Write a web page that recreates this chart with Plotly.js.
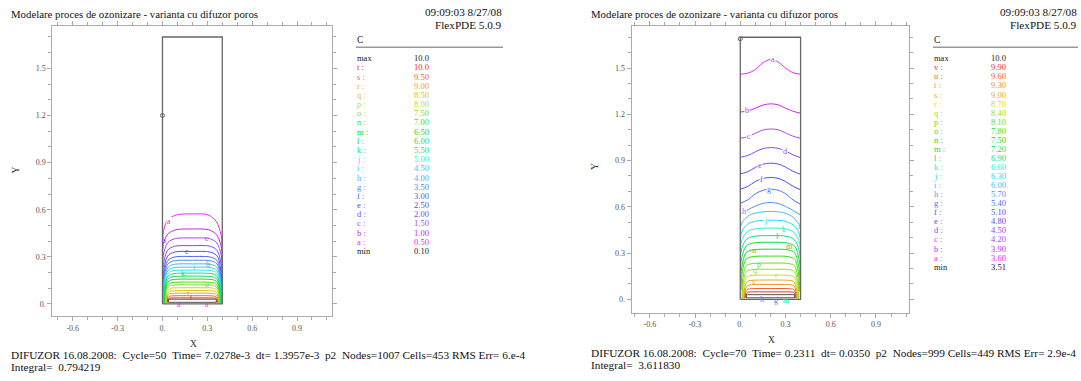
<!DOCTYPE html>
<html><head><meta charset="utf-8">
<script src="https://cdn.plot.ly/plotly-3.0.1.min.js"></script>
<style>html,body{margin:0;padding:0;background:#fff;}#chart{width:1081px;height:381px;}</style>
</head><body><div id="chart"></div>
<script>
// ---------------- data ----------------
const titleText = "Modelare proces de ozonizare - varianta cu difuzor poros";
const stampText = "09:09:03 8/27/08";
const versionText = "FlexPDE 5.0.9";
const varName = "C";
const letters = ["a","b","c","d","e","f","g","h","i","j","k","l","m","n","o","p","q","r","s","t","u","v"];

const leftLevels = [0.5,1.0,1.5,2.0,2.5,3.0,3.5,4.0,4.5,5.0,5.5,6.0,6.5,7.0,7.5,8.0,8.5,9.0,9.5,10.0];
const leftMax = 10.0, leftMin = 0.10;
const rightLevels = [3.6,3.9,4.2,4.5,4.8,5.1,5.4,5.7,6.0,6.3,6.6,6.9,7.2,7.5,7.8,8.1,8.4,8.7,9.0,9.3,9.6,9.9];
const rightMax = 10.0, rightMin = 3.51;

const xTickVals = [-0.6,-0.3,0,0.3,0.6,0.9];
const xTickText = ["-0.6","-0.3","0.","0.3","0.6","0.9"];
const yTickVals = [0,0.3,0.6,0.9,1.2,1.5];
const yTickText = ["0.","0.3","0.6","0.9","1.2","1.5"];

const domainX = [0,0.4,0.4,0,0];
const domainY = [0,0,1.7,1.7,0];
const diffuserX = [0.04,0.36,0.36,0.04,0.04];
const diffuserY = [0.01,0.01,0.03,0.03,0.01];
const leftProbe = [0,1.2];
const rightProbe = [0,1.69];

const leftContX = [
[0.000,0.006,0.035,0.095,0.200,0.305,0.360,0.392,0.400],
[0.000,0.006,0.035,0.090,0.200,0.310,0.362,0.392,0.400],
[0.000,0.006,0.035,0.085,0.200,0.315,0.364,0.393,0.400],
[0.000,0.006,0.035,0.080,0.200,0.320,0.366,0.393,0.400],
[0.002,0.007,0.035,0.080,0.200,0.320,0.366,0.392,0.398],
[0.004,0.009,0.036,0.078,0.200,0.322,0.365,0.390,0.396],
[0.006,0.011,0.037,0.076,0.200,0.324,0.364,0.389,0.394],
[0.008,0.013,0.038,0.074,0.200,0.326,0.363,0.387,0.392],
[0.010,0.015,0.039,0.072,0.200,0.328,0.362,0.385,0.390],
[0.012,0.017,0.040,0.070,0.200,0.330,0.361,0.383,0.388],
[0.014,0.019,0.041,0.068,0.200,0.332,0.360,0.381,0.386],
[0.016,0.021,0.042,0.066,0.200,0.334,0.359,0.379,0.384],
[0.018,0.023,0.043,0.064,0.200,0.336,0.358,0.377,0.382],
[0.020,0.025,0.044,0.062,0.200,0.338,0.357,0.375,0.380],
[0.022,0.027,0.045,0.060,0.200,0.340,0.356,0.373,0.378],
[0.024,0.029,0.046,0.058,0.200,0.342,0.355,0.371,0.376],
[0.027,0.032,0.046,0.057,0.200,0.343,0.354,0.368,0.373],
[0.030,0.034,0.046,0.056,0.200,0.344,0.354,0.366,0.370],
[0.033,0.036,0.045,0.054,0.200,0.346,0.355,0.364,0.367],
[0.036,0.037,0.042,0.050,0.200,0.350,0.358,0.363,0.364]
];
const leftContY = [
[0.380,0.460,0.535,0.567,0.573,0.567,0.525,0.440,0.365],
[0.280,0.380,0.445,0.472,0.477,0.472,0.440,0.370,0.280],
[0.200,0.310,0.390,0.416,0.420,0.416,0.388,0.310,0.200],
[0.130,0.250,0.342,0.367,0.371,0.367,0.340,0.250,0.130],
[0.005,0.200,0.305,0.330,0.334,0.330,0.305,0.200,0.005],
[0.005,0.180,0.276,0.298,0.302,0.298,0.276,0.180,0.005],
[0.005,0.170,0.255,0.274,0.278,0.274,0.255,0.170,0.005],
[0.005,0.160,0.234,0.251,0.255,0.251,0.234,0.160,0.005],
[0.005,0.150,0.215,0.230,0.234,0.230,0.215,0.150,0.005],
[0.005,0.140,0.198,0.211,0.215,0.211,0.198,0.140,0.005],
[0.005,0.130,0.181,0.192,0.196,0.192,0.181,0.130,0.005],
[0.005,0.120,0.163,0.173,0.177,0.173,0.163,0.120,0.005],
[0.005,0.110,0.145,0.154,0.158,0.154,0.145,0.110,0.005],
[0.005,0.100,0.127,0.135,0.139,0.135,0.127,0.100,0.005],
[0.005,0.090,0.111,0.118,0.121,0.118,0.111,0.090,0.005],
[0.005,0.075,0.094,0.100,0.103,0.100,0.094,0.075,0.005],
[0.005,0.062,0.078,0.082,0.085,0.082,0.078,0.062,0.005],
[0.006,0.050,0.062,0.066,0.068,0.066,0.062,0.050,0.006],
[0.008,0.040,0.047,0.050,0.052,0.050,0.047,0.040,0.008],
[0.010,0.030,0.035,0.037,0.038,0.037,0.035,0.030,0.010]
];

const rightContX = [
[0.000,0.050,0.100,0.150,0.200,0.250,0.300,0.350,0.400],
[0.000,0.050,0.100,0.150,0.200,0.250,0.300,0.350,0.400],
[0.000,0.050,0.100,0.150,0.200,0.250,0.300,0.350,0.400],
[0.000,0.050,0.100,0.150,0.200,0.250,0.300,0.350,0.400],
[0.000,0.050,0.100,0.150,0.200,0.250,0.300,0.350,0.400],
[0.000,0.050,0.100,0.150,0.200,0.250,0.300,0.350,0.400],
[0.000,0.050,0.100,0.150,0.200,0.250,0.300,0.350,0.400],
[0.000,0.040,0.100,0.150,0.200,0.250,0.300,0.360,0.400],
[0.000,0.020,0.060,0.120,0.200,0.280,0.340,0.380,0.400],
[0.000,0.015,0.050,0.110,0.200,0.290,0.350,0.385,0.400],
[0.000,0.012,0.045,0.100,0.200,0.300,0.355,0.388,0.400],
[0.000,0.010,0.040,0.090,0.200,0.310,0.360,0.390,0.400],
[0.000,0.010,0.038,0.085,0.200,0.315,0.362,0.390,0.400],
[0.002,0.012,0.038,0.080,0.200,0.320,0.362,0.388,0.398],
[0.005,0.014,0.038,0.078,0.200,0.322,0.362,0.386,0.395],
[0.012,0.018,0.040,0.076,0.200,0.324,0.360,0.382,0.388],
[0.016,0.021,0.041,0.074,0.200,0.326,0.359,0.379,0.384],
[0.020,0.025,0.043,0.072,0.200,0.328,0.357,0.375,0.380],
[0.024,0.029,0.045,0.070,0.200,0.330,0.355,0.371,0.376],
[0.028,0.032,0.046,0.066,0.200,0.334,0.354,0.368,0.372],
[0.032,0.035,0.046,0.062,0.200,0.338,0.354,0.365,0.368],
[0.036,0.038,0.045,0.056,0.200,0.344,0.355,0.362,0.364]
];
const rightContY = [
[1.460,1.467,1.490,1.535,1.556,1.540,1.500,1.470,1.460],
[1.215,1.222,1.240,1.260,1.268,1.262,1.240,1.220,1.207],
[1.045,1.055,1.077,1.098,1.105,1.100,1.080,1.058,1.045],
[0.921,0.933,0.957,0.978,0.984,0.980,0.962,0.937,0.919],
[0.813,0.828,0.856,0.876,0.883,0.878,0.858,0.830,0.811],
[0.714,0.732,0.764,0.784,0.790,0.785,0.764,0.733,0.710],
[0.623,0.645,0.684,0.707,0.714,0.708,0.685,0.645,0.616],
[0.555,0.575,0.605,0.622,0.628,0.622,0.603,0.570,0.547],
[0.470,0.510,0.545,0.563,0.570,0.563,0.540,0.500,0.470],
[0.395,0.450,0.488,0.508,0.513,0.508,0.483,0.440,0.385],
[0.325,0.390,0.438,0.457,0.462,0.457,0.435,0.380,0.315],
[0.255,0.330,0.388,0.408,0.413,0.408,0.386,0.320,0.245],
[0.190,0.270,0.345,0.365,0.370,0.365,0.343,0.260,0.180],
[0.125,0.220,0.302,0.320,0.325,0.320,0.300,0.210,0.115],
[0.060,0.180,0.260,0.276,0.280,0.276,0.258,0.170,0.050],
[0.005,0.140,0.218,0.231,0.235,0.231,0.217,0.140,0.005],
[0.005,0.115,0.180,0.192,0.195,0.192,0.180,0.115,0.005],
[0.005,0.095,0.145,0.154,0.157,0.154,0.145,0.095,0.005],
[0.005,0.075,0.115,0.122,0.125,0.122,0.115,0.075,0.005],
[0.006,0.058,0.088,0.094,0.096,0.094,0.088,0.058,0.006],
[0.008,0.045,0.064,0.068,0.070,0.068,0.064,0.045,0.008],
[0.010,0.034,0.044,0.047,0.048,0.047,0.044,0.034,0.010]
];

// contour labels: [level index, x, y]
const leftLabels = [[0,0.046,0.522],[1,0.012,0.405],[2,0.295,0.418],[4,0.162,0.334],[7,0.307,0.253],[8,0.213,0.234],[10,0.135,0.196],[14,0.295,0.121],[17,0.173,0.068],[19,0.195,0.040],[0,0.11,-0.004],[0,0.295,-0.004]];
const rightLabels = [[0,0.215,1.553],[1,0.046,1.222],[2,0.06,1.058],[3,0.296,0.962],[4,0.13,0.866],[5,0.141,0.780],[6,0.19,0.713],[7,0.024,0.570],[8,0.392,0.470],[9,0.17,0.511],[10,0.29,0.450],[11,0.245,0.410],[12,0.329,0.345],[13,0.091,0.315],[15,0.124,0.228],[16,0.097,0.186],[17,0.237,0.157],[18,0.091,0.118],[7,0.144,-0.003],[6,0.234,-0.009],[12,0.307,-0.005]];

const leftFooter1 = "DIFUZOR 16.08.2008:  Cycle=50  Time= 7.0278e-3  dt= 1.3957e-3  p2  Nodes=1007 Cells=453 RMS Err= 6.e-4";
const leftFooter2 = "Integral=  0.794219";
const rightFooter1 = "DIFUZOR 16.08.2008:  Cycle=70  Time= 0.2311  dt= 0.0350  p2  Nodes=999 Cells=449 RMS Err= 2.9e-4";
const rightFooter2 = "Integral=  3.611830";

// ---------------- styling / build ----------------
const W = 1081, H = 381;
const FONT = "Liberation Serif, Times New Roman, serif";
const px = x => x / W, py = y => 1 - y / H;
const nb = s => s.replace(/ /g, "\u00a0");

function palette(n) {
  const out = [];
  for (let i = 0; i < n; i++) {
    const f = i / (n - 1);
    const h = f < 0.42 ? 300 - (110 * f / 0.42) : 190 * (1 - (f - 0.42) / 0.58);
    let l = 55;
    if (h >= 195 && h <= 285) l = 62;
    else if (h > 40 && h < 170) l = 46;
    out.push(`hsl(${h.toFixed(1)},88%,${l}%)`);
  }
  return out;
}
const leftColors = palette(leftLevels.length);
const rightColors = palette(rightLevels.length);

const traces = [];
function addPanel(cx, cy, colors, xa, ya, probe) {
  for (let i = 0; i < cx.length; i++) {
    traces.push({type: "scatter", mode: "lines", x: cx[i], y: cy[i], xaxis: xa, yaxis: ya,
      line: {color: colors[i], width: 1, shape: "spline", smoothing: 0.9}, hoverinfo: "skip"});
  }
  traces.push({type: "scatter", mode: "lines", x: domainX, y: domainY, xaxis: xa, yaxis: ya,
    line: {color: "#666", width: 1.3}, hoverinfo: "skip"});
  traces.push({type: "scatter", mode: "lines", x: diffuserX, y: diffuserY, xaxis: xa, yaxis: ya,
    line: {color: "#555", width: 1}, hoverinfo: "skip"});
  traces.push({type: "scatter", mode: "markers", x: [probe[0]], y: [probe[1]], xaxis: xa, yaxis: ya,
    marker: {symbol: "circle-open", size: 4, color: "#666", line: {width: 1, color: "#666"}}, hoverinfo: "skip"});
}
addPanel(leftContX, leftContY, leftColors, "x", "y", leftProbe);
addPanel(rightContX, rightContY, rightColors, "x2", "y2", rightProbe);

const annotations = [];
function ann(text, x, y, size, color, xanchor, extra) {
  annotations.push(Object.assign({text: nb(text), x: px(x), y: py(y), xref: "paper", yref: "paper",
    showarrow: false, xanchor: xanchor || "left", yanchor: "middle",
    font: {family: FONT, size: size, color: color}, borderpad: 0}, extra || {}));
}
const fmt = v => v >= 10 ? v.toFixed(1) : v.toFixed(2);

function header(x0, xr) {
  ann(titleText, x0, 13.5, 10.8, "#111", "left");
  ann(stampText, xr, 18.6, 11.2, "#111", "right", {yanchor: "bottom"});
  ann(versionText, xr, 18.4, 11.2, "#111", "right", {yanchor: "top"});
}
header(10, 503);
header(590, 1078);

function legend(levels, colors, maxV, minV, xL, xV, y0, dy) {
  ann(varName, xL, 40, 9.5, "#222", "left");
  const rows = [["max", fmt(maxV), "#222"]];
  for (let i = levels.length - 1; i >= 0; i--) rows.push([letters[i] + " :", fmt(levels[i]), colors[i]]);
  rows.push(["min", fmt(minV), "#222"]);
  rows.forEach((r, k) => {
    ann(r[0], xL, y0 + k * dy, 8.5, r[2], "left");
    ann(r[1], xV, y0 + k * dy, 8.5, r[2], "left");
  });
}
legend(leftLevels, leftColors, leftMax, leftMin, 356, 412.7, 58.3, 9.17);
legend(rightLevels, rightColors, rightMax, rightMin, 933, 990, 58.3, 9.06);

function labels(list, colors, xr, yr, bgAbove) {
  list.forEach(l => {
    const a = {text: letters[l[0]], x: l[1], y: l[2], xref: xr, yref: yr, showarrow: false,
      xanchor: "center", yanchor: "middle", font: {family: FONT, size: 8, color: colors[l[0]]}, borderpad: 0};
    if (l[2] > bgAbove) { a.bgcolor = "#fff"; }
    annotations.push(a);
  });
}
labels(leftLabels, leftColors, "x", "y", 0.45);
labels(rightLabels, rightColors, "x2", "y2", 0.5);

// axis titles
ann("Y", 15.5, 170, 9.5, "#333", "center", {textangle: -90});
ann("X", 193, 343.5, 9.5, "#333", "center");
ann("Y", 595, 167, 9.5, "#333", "center", {textangle: -90});
ann("X", 771, 340, 9.5, "#333", "center");

// footers
ann(leftFooter1, 10, 355, 11.3, "#111", "left");
ann(leftFooter2, 10, 366.5, 11.3, "#111", "left");
ann(rightFooter1, 590, 353, 11.3, "#111", "left");
ann(rightFooter2, 590, 364.5, 11.3, "#111", "left");

const shapes = [
  {type: "line", xref: "paper", yref: "paper", x0: px(356), x1: px(503), y0: py(47.3), y1: py(47.3), line: {color: "#999", width: 1.5}},
  {type: "line", xref: "paper", yref: "paper", x0: px(933), x1: px(1078), y0: py(47.3), y1: py(47.3), line: {color: "#999", width: 1.5}}
];

function axis(range, domain, vals, text, anchor) {
  return {range: range, domain: domain, anchor: anchor, showgrid: false, zeroline: false,
    showline: true, linecolor: "#aaa", linewidth: 1, mirror: "allticks",
    ticks: "outside", ticklen: 4, tickcolor: "#aaa", tickwidth: 1,
    tickmode: "array", tickvals: vals, ticktext: text,
    tickfont: {family: FONT, size: 8, color: "#555"},
    minor: {dtick: 0.1, tick0: 0, ticks: "outside", ticklen: 3, tickcolor: "#aaa", tickwidth: 1, showgrid: false},
    fixedrange: true};
}

const layout = {
  width: W, height: H, margin: {l: 0, r: 0, t: 0, b: 0},
  paper_bgcolor: "#fff", plot_bgcolor: "#fff", showlegend: false,
  xaxis: axis([-0.737, 1.136], [px(52.3), px(332.3)], xTickVals, xTickText, "y"),
  yaxis: axis([-0.077, 1.77], [py(316), py(26)], yTickVals, yTickText, "x"),
  xaxis2: axis([-0.72, 1.119], [px(631.7), px(909)], xTickVals, xTickText, "y2"),
  yaxis2: axis([-0.087, 1.773], [py(312.7), py(26)], yTickVals, yTickText, "x2"),
  annotations: annotations, shapes: shapes
};
Plotly.newPlot("chart", traces, layout, {staticPlot: true, displayModeBar: false});
</script>
</body></html>
